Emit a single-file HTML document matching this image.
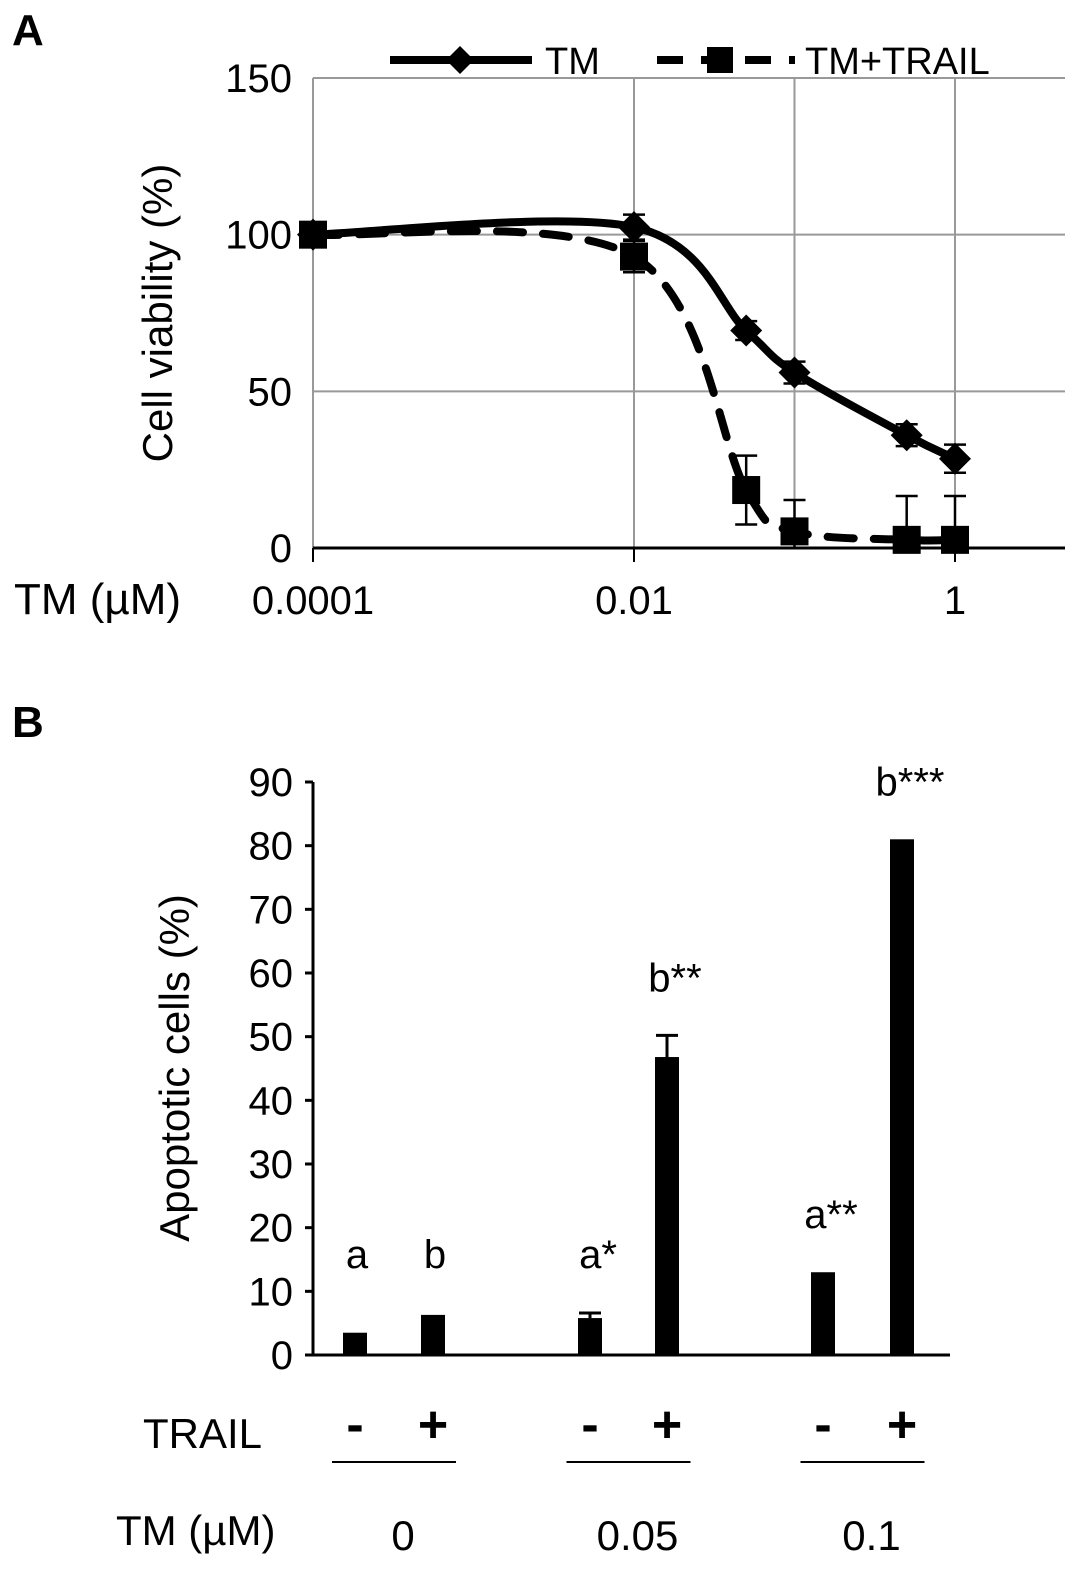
<!DOCTYPE html>
<html><head><meta charset="utf-8"><style>
html,body{margin:0;padding:0;background:#fff;}
svg{display:block;font-family:"Liberation Sans",Arial,sans-serif;}
</style></head><body>
<svg id="chart" width="1087" height="1579" viewBox="0 0 1087 1579" xmlns="http://www.w3.org/2000/svg">
<text x="12" y="45" font-size="44" font-weight="bold">A</text>
<text x="12" y="737" font-size="44" font-weight="bold">B</text>
<g id="pa"></g>
<g id="pb"></g>
</svg>
<script>
// Panel A data
const aDoses = [0.0001, 0.01, 0.05, 0.1, 0.5, 1];
const aTM = [100, 102.4, 69.4, 56, 36, 28.5];
const aTMerr = [0.5, 4, 3, 3.5, 3.5, 4.5];
const aTR = [100, 93, 18.5, 5.3, 2.6, 2.6];
const aTRerr = [0.5, 5, 11, 10, 14, 14];
const aYTicks = [0, 50, 100, 150];
const aXTicks = [0.0001, 0.01, 1];
const aXTickLabels = ["0.0001", "0.01", "1"];
// Panel B data
const bCats = ["0-", "0+", "0.05-", "0.05+", "0.1-", "0.1+"];
const bVals = [3.5, 6.3, 5.8, 46.8, 13.0, 81.0];
const bErr = [0, 0, 0.8, 3.4, 0, 0];
const bAnn = ["a", "b", "a*", "b**", "a**", "b***"];
const bSign = ["-", "+", "-", "+", "-", "+"];
const bYTicks = [0,10,20,30,40,50,60,70,80,90];
const bGroups = ["0", "0.05", "0.1"];

const NS="http://www.w3.org/2000/svg";
function mk(parent,tag,attrs,text){const e=document.createElementNS(NS,tag);for(const k in attrs)e.setAttribute(k,attrs[k]);if(text!==undefined)e.textContent=text;parent.appendChild(e);return e;}

// ---- Panel A ----
const pa=document.getElementById('pa');
const ax=d=>313+(Math.log10(d)+4)*160.5;
const ay=v=>548-v*(470/150);
aYTicks.forEach(t=>{
  if(t>0){const l=mk(pa,'line',{x1:313,x2:1065,y1:ay(t),y2:ay(t),stroke:'#999','stroke-width':2});
  
  }
  const tx=mk(pa,'text',{x:292,y:ay(t)+14,'font-size':40,'text-anchor':'end'},String(t));
  
  
});
[0.01,0.1,1].forEach(d=>{
  const l=mk(pa,'line',{x1:ax(d),x2:ax(d),y1:78,y2:548,stroke:'#999','stroke-width':2});
  
  
});
mk(pa,'line',{x1:313,x2:313,y1:78,y2:548,stroke:'#999','stroke-width':2});
const xa=mk(pa,'line',{x1:313,x2:1065,y1:548,y2:548,stroke:'#000','stroke-width':3});


aXTicks.forEach((d,i)=>{
  mk(pa,'line',{x1:ax(d),x2:ax(d),y1:548,y2:562,stroke:'#000','stroke-width':2});
  const t=mk(pa,'text',{x:ax(d),y:614,'font-size':40,'text-anchor':'middle'},aXTickLabels[i]);
  
  
});
const xt=mk(pa,'text',{x:14,y:614,'font-size':44},'TM (µM)');


const yt=mk(pa,'text',{x:0,y:0,'font-size':42,'text-anchor':'middle',transform:'translate(172,313) rotate(-90)'},'Cell viability (%)');



function smooth(pts){
  let d=`M${pts[0][0]},${pts[0][1]}`;
  for(let i=0;i<pts.length-1;i++){
    const p0=pts[i-1]||pts[i],p1=pts[i],p2=pts[i+1],p3=pts[i+2]||p2;
    const c1=[p1[0]+(p2[0]-p0[0])/6,p1[1]+(p2[1]-p0[1])/6];
    const c2=[p2[0]-(p3[0]-p1[0])/6,p2[1]-(p3[1]-p1[1])/6];
    d+=` C${c1[0]},${c1[1]} ${c2[0]},${c2[1]} ${p2[0]},${p2[1]}`;
  }
  return d;
}
function series(vals,errs,dashed,marker,name){
  const pts=aDoses.map((d,i)=>[ax(d),ay(vals[i])]);
  aDoses.forEach((d,i)=>{
    const x=ax(d),y1=ay(vals[i]+errs[i]),y2=ay(Math.max(0,vals[i]-errs[i]));
    const e=mk(pa,'path',{d:`M${x},${y1}V${y2}M${x-11},${y1}H${x+11}M${x-11},${y2}H${x+11}`,stroke:'#000','stroke-width':2.5,fill:'none'});
    
    
  });
  const p=mk(pa,'path',{d:smooth(pts),fill:'none',stroke:'#000','stroke-width':8,'stroke-dasharray':dashed?'26,20':'none','stroke-linecap':'round'});
  
  
  pts.forEach(([x,y])=>{
    const m=marker==='d'?mk(pa,'path',{d:`M${x},${y-16}L${x+16},${y}L${x},${y+16}L${x-16},${y}Z`,fill:'#000'}):mk(pa,'rect',{x:x-14,y:y-14,width:28,height:28,fill:'#000'});
    
    
  });
}
series(aTR,aTRerr,true,'s','tm-trail');
series(aTM,aTMerr,false,'d','tm');
const lg=mk(pa,'g',{});


mk(lg,'line',{x1:390,x2:532,y1:60,y2:60,stroke:'#000','stroke-width':8});
mk(lg,'path',{d:'M460,46L474,60L460,74L446,60Z',fill:'#000'});
mk(lg,'text',{x:545,y:74,'font-size':38},'TM');
mk(lg,'line',{x1:657,x2:795,y1:60,y2:60,stroke:'#000','stroke-width':8,'stroke-dasharray':'26,18'});
mk(lg,'rect',{x:707,y:47,width:26,height:26,fill:'#000'});
mk(lg,'text',{x:805,y:74,'font-size':38},'TM+TRAIL');

// ---- Panel B ----
const pb=document.getElementById('pb');
const by=v=>1355-v*(573/90);
const bx=[355,433,590,667,823,902];
mk(pb,'line',{x1:313,x2:313,y1:782,y2:1355,stroke:'#000','stroke-width':3});
bYTicks.forEach(t=>{
  mk(pb,'line',{x1:305,x2:313,y1:by(t),y2:by(t),stroke:'#000','stroke-width':3});
  const tx=mk(pb,'text',{x:293,y:by(t)+14,'font-size':40,'text-anchor':'end'},String(t));
  
  
});
const bt=mk(pb,'text',{x:0,y:0,'font-size':42,'text-anchor':'middle',transform:'translate(189,1068) rotate(-90)'},'Apoptotic cells  (%)');


bVals.forEach((v,i)=>{
  const r=mk(pb,'rect',{x:bx[i]-12,y:by(v),width:24,height:by(0)-by(v),fill:'#000'});
  
  
  if(bErr[i]>0){
    const yt=by(v+bErr[i]);
    const e=mk(pb,'path',{d:`M${bx[i]},${yt}V${by(v)}M${bx[i]-11},${yt}H${bx[i]+11}`,stroke:'#000','stroke-width':3});
    
    
  }
  const top=v+bErr[i];
  const a=mk(pb,'text',{x:bx[i]+(bAnn[i].length>1?8:2),y:Math.min(by(top)-44,1268),'font-size':40,'text-anchor':'middle'},bAnn[i]);
  
  
  const s=mk(pb,'text',{x:bx[i],y:1442,'font-size':52,'font-weight':'bold','text-anchor':'middle'},bSign[i]);
  
  
});
mk(pb,'line',{x1:305,x2:950,y1:1355,y2:1355,stroke:'#000','stroke-width':3});
const tr=mk(pb,'text',{x:143,y:1448,'font-size':42},'TRAIL');


const tm=mk(pb,'text',{x:116,y:1545,'font-size':42},'TM (µM)');


bGroups.forEach((g,j)=>{
  const cx=(bx[2*j]+bx[2*j+1])/2;
  mk(pb,'line',{x1:cx-62,x2:cx+62,y1:1462,y2:1462,stroke:'#000','stroke-width':2});
  const t=mk(pb,'text',{x:cx+9,y:1550,'font-size':42,'text-anchor':'middle'},g);
  
  
});
</script>
</body></html>
